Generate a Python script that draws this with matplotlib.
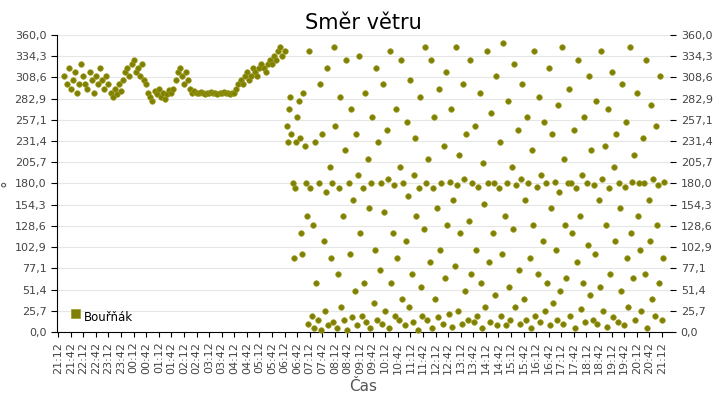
import numpy as np
import matplotlib.pyplot as plt
from matplotlib.path import Path

# night phase: steady wind, sampled every 5 minutes (minutes after 21:12)
calm_vals = [
    310, 300, 320, 295, 305, 315, 290, 300, 325, 310, 300, 295, 315, 305, 290, 310, 300, 320, 305, 295, 310, 300,
    290, 285, 295, 288, 300, 292,
    305, 315, 320, 310, 325, 330, 315, 320, 310, 325, 305, 300,
    290, 285, 280, 292, 288, 295, 285, 290, 282, 288, 293, 290,
    295, 305, 315, 320, 310, 300, 315, 305, 295, 290, 292, 290,
    290, 291, 290, 289, 290, 290, 291, 290, 290, 289, 290, 290, 291, 290, 290, 289, 290, 290,
    295, 300, 305, 300, 310, 315, 305, 310, 320, 315, 310, 320, 325, 320, 315, 325, 330, 325,
    335, 330, 340, 345, 335, 340,
]
calm_t = np.arange(15, 15 + 5 * len(calm_vals), 5)

# day phase: gusty, direction all over the place
gusty_vals = [
    250, 230, 270, 285, 240, 180, 90, 175, 230, 260, 280, 235, 120, 95, 290, 225, 180, 140,
    10, 340, 175, 20, 130, 5, 230, 60, 15, 180, 300, 3, 240, 110, 25, 170, 320, 8, 200, 90,
    180, 12, 345, 250, 5, 70, 175, 285, 30, 140, 15, 220, 330, 2, 180, 95, 270, 18, 160, 50,
    240, 8, 190, 335, 120, 20, 175, 60, 290, 12, 210, 150, 5, 180, 260, 35, 100, 320, 14, 230,
    75, 180, 10, 300, 145, 25, 245, 185, 5, 340, 60, 120, 178, 20, 270, 90, 15, 200, 330, 40,
    180, 8, 110, 255, 165, 30, 305, 70, 12, 190, 235, 140, 3, 175, 285, 55, 20, 125, 345, 180,
    15, 210, 85, 330, 5, 175, 260, 40, 150, 18, 295, 100, 180, 10, 225, 65, 315, 130, 22, 182,
    270, 6, 160, 80, 345, 178, 25, 215, 120, 10, 300, 185, 50, 240, 15, 135, 330, 70, 180, 12,
    250, 100, 20, 176, 290, 60, 5, 205, 155, 30, 340, 180, 85, 12, 265, 120, 180, 45, 310, 8,
    175, 230, 20, 95, 350, 140, 8, 180, 280, 55, 15, 200, 125, 325, 30, 178, 245, 75, 10, 185,
    300, 40, 160, 15, 260, 180, 90, 5, 220, 130, 340, 20, 176, 70, 285, 12, 190, 110, 255, 25,
    180, 60, 320, 8, 150, 240, 35, 182, 100, 15, 275, 170, 50, 345, 10, 210, 130, 65, 180, 295,
    20, 180, 120, 245, 5, 175, 85, 330, 140, 28, 190, 60, 260, 12, 180, 105, 310, 45, 220, 15,
    178, 95, 280, 10, 160, 55, 340, 185, 25, 225, 130, 6, 270, 175, 70, 315, 18, 200, 110, 240,
    12, 180, 150, 50, 300, 8, 176, 255, 90, 30, 345, 120, 182, 65, 215, 15, 290, 140, 180, 100,
    25, 235, 180, 70, 330, 5, 160, 110, 275, 40, 185, 20, 250, 130, 178, 60, 310, 15, 90, 182,
]
gusty_t = np.linspace(545, 1445, len(gusty_vals))

tick_labels = []
for i in range(49):
    m = 21 * 60 + 12 + 30 * i
    tick_labels.append(f"{(m // 60) % 24:02d}:{m % 60:02d}")

COLOR = "#808000"

fig = plt.figure(figsize=(7.2, 4.0), dpi=100)
ax = fig.add_axes([0.079, 0.17, 0.852, 0.7425])

t = np.concatenate([calm_t, gusty_t])
v = np.concatenate([calm_vals, gusty_vals])
ax.scatter(t, v, s=16, color=COLOR, edgecolors="#9a9a20", linewidths=0.5,
           label="Bouřňák", zorder=3, clip_on=False)

ax.set_xlim(-3, 1460)
ax.set_ylim(0, 360)
yt = np.linspace(0, 360, 15)
ax.set_yticks(yt)
ax.set_yticklabels([f"{y:.1f}".replace(".", ",") for y in yt], fontsize=8, color="#444444")
ax.tick_params(axis="y", right=True, labelright=True, length=4)
ax.set_xticks(np.arange(0, 30 * 49, 30))
ax.set_xticklabels(tick_labels, rotation=90, fontsize=8, color="#444444")
ax.grid(axis="y", color="#e6e6e6", linewidth=0.8)
ax.set_axisbelow(True)
for s in ("top", "right"):
    ax.spines[s].set_visible(False)

ax.set_title("Směr větru", fontsize=15, pad=4)
ax.set_xlabel("Čas", fontsize=11, color="#555555")
ax.set_ylabel("°", fontsize=11, color="#555555")
ax.yaxis.set_label_coords(-0.068, 0.5)
ax.legend(loc="lower left", frameon=False, markerscale=1.7, handletextpad=0.6,
          fontsize=8.5, borderaxespad=0.3, handlelength=1)
ax.get_legend().legend_handles[0].set_paths([Path.unit_rectangle()])

fig.savefig("out.png", dpi=100)
